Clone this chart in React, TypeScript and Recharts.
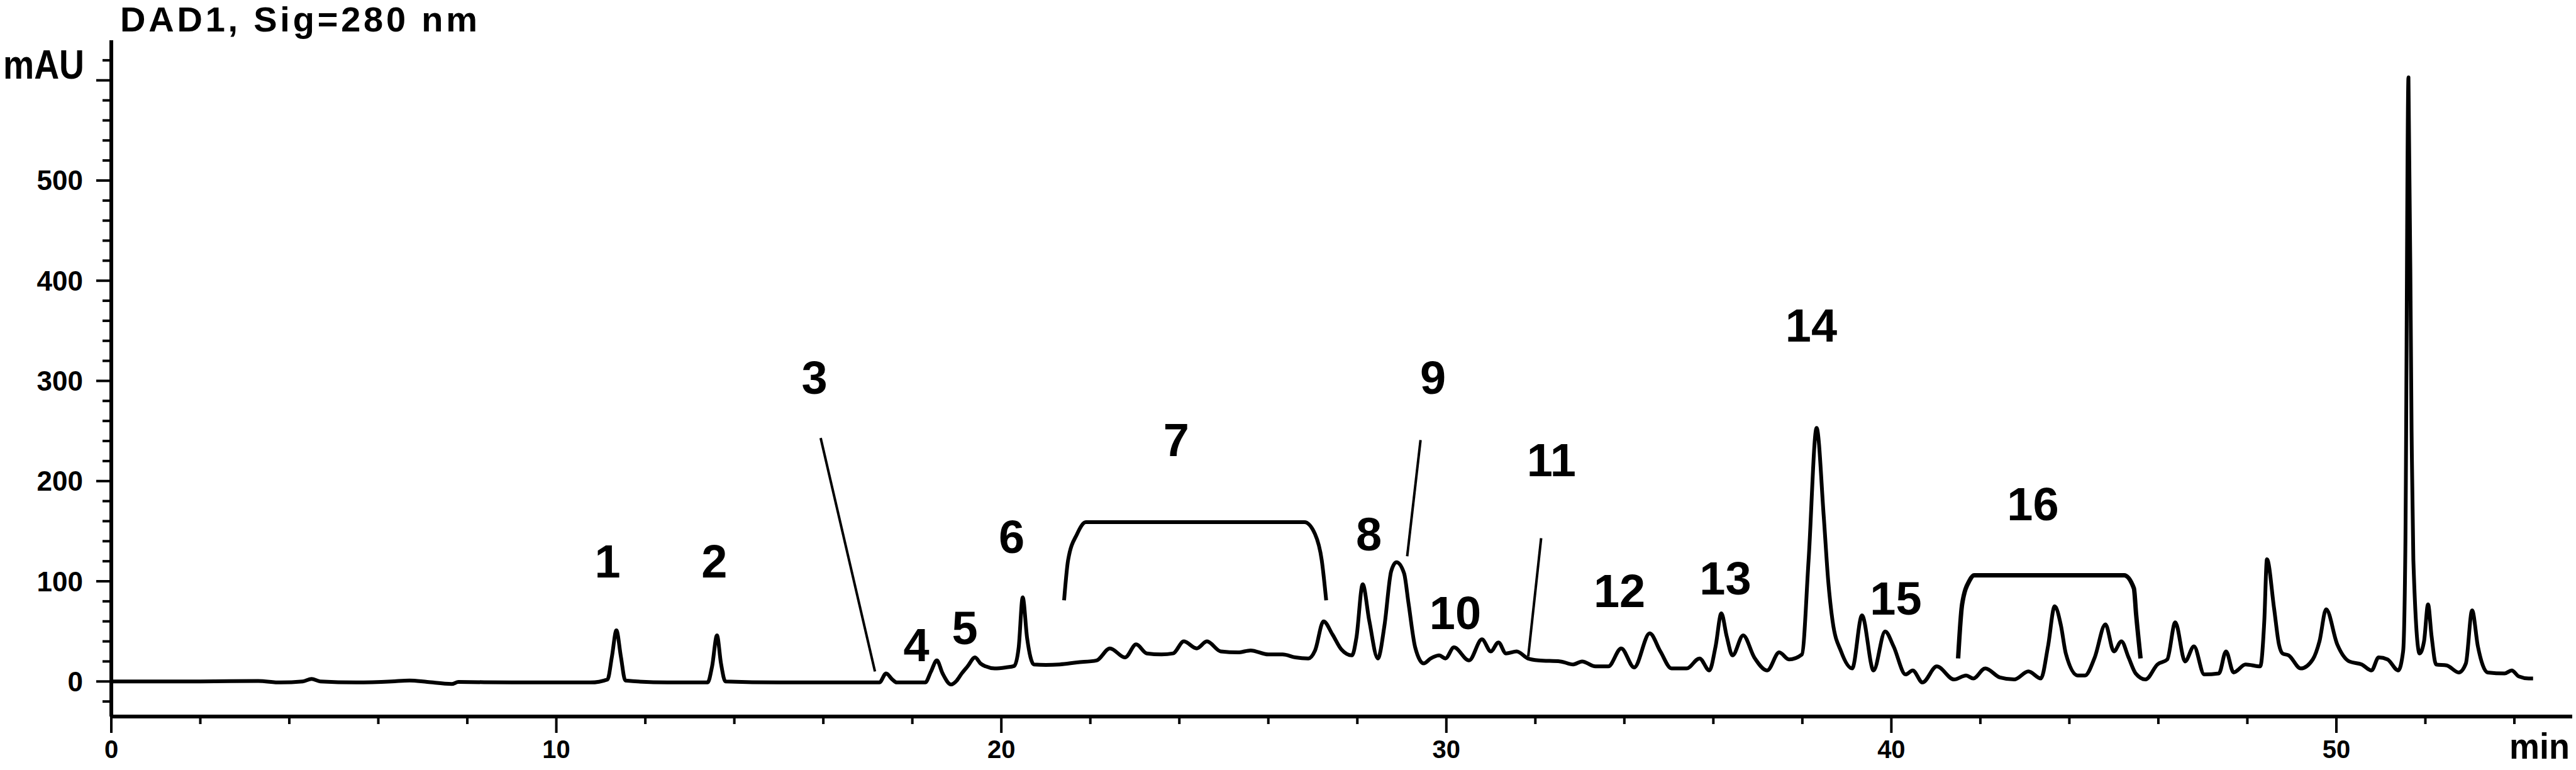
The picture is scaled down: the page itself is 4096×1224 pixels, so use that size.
import React from 'react';
import {
  ComposedChart,
  Line,
  Scatter,
  XAxis,
  YAxis,
  ReferenceLine,
} from 'recharts';

// retention time (min) and absorbance (mAU)
const times = [
  0, 1, 2, 3.3, 3.8, 4.3, 4.5, 4.7, 5.5, 6.3, 6.7, 7.1, 7.65, 7.8, 9, 10, 10.77,
  11.15, 11.25, 11.35, 11.45, 11.55, 12.5, 13.4, 13.5, 13.61, 13.7, 13.8, 15, 16.5,
  17.26, 17.41, 17.55, 17.65, 18.29, 18.42, 18.55, 18.68, 18.87, 19.0, 19.11, 19.24,
  19.41, 19.53, 19.65, 19.85, 20.1, 20.29, 20.39, 20.48, 20.58, 20.73, 21.0, 21.31,
  21.7, 22.14, 22.44, 22.78, 23.03, 23.27, 23.6, 23.86, 24.1, 24.39, 24.62, 24.93,
  25.32, 25.6, 26.0, 26.32, 26.61, 26.9, 27.05, 27.24, 27.44, 27.64, 27.88, 27.98,
  28.12, 28.27, 28.46, 28.61, 28.76, 28.88, 29.05, 29.15, 29.3, 29.49, 29.65, 29.84,
  29.98, 30.17, 30.51, 30.8, 31.0, 31.17, 31.34, 31.58, 31.83, 32.07, 32.56, 32.85,
  33.05, 33.35, 33.64, 33.93, 34.22, 34.57, 34.81, 35.06, 35.4, 35.69, 35.91, 36.05,
  36.18, 36.3, 36.43, 36.67, 36.92, 37.21, 37.48, 37.7, 37.99, 38.14, 38.32, 38.48,
  38.58, 38.68, 38.87, 39.12, 39.34, 39.6, 39.86, 40.05, 40.32, 40.48, 40.7, 41.02,
  41.41, 41.68, 41.84, 42.11, 42.44, 42.76, 43.08, 43.36, 43.52, 43.67, 43.81, 43.92,
  44.19, 44.35, 44.57, 44.81, 45.0, 45.17, 45.33, 45.49, 45.71, 45.98, 46.2, 46.38,
  46.6, 46.8, 47.03, 47.36, 47.52, 47.69, 47.96, 48.29, 48.38, 48.44, 48.6, 48.71,
  48.79, 48.93, 49.2, 49.47, 49.62, 49.77, 50.02, 50.29, 50.57, 50.79, 50.95, 51.15,
  51.39, 51.5, 51.55, 51.62, 51.69, 51.73, 51.87, 51.97, 52.06, 52.14, 52.24, 52.48,
  52.75, 52.91, 53.05, 53.18, 53.4, 53.78, 53.94, 54.1, 54.32, 54.42,
];

const mau = [
  0, 0, 0, 0.5, -1, 0, 2.5, 0, -1, 0, 1, -0.5, -2.5, -0.5, -1, -1, -1,
  2, 25, 51, 25, 1, -1, -1, 15, 46, 18, 0, -1, -1,
  -1, 8, 2, -1, -1, 10, 21, 8, -3, 1, 8, 15,
  24, 18, 15, 13, 14, 15.5, 34, 84, 43, 17, 16.5, 17,
  19, 21, 33, 24, 37, 28, 27, 28, 40, 33, 40, 30,
  29, 31, 27, 27, 24, 23, 31, 60, 47, 32, 26, 44,
  97, 60, 23, 56, 110, 119, 108, 78, 34, 18, 23, 26,
  23, 34, 21, 42, 30, 39, 28, 30, 23, 21, 20, 17,
  20, 15, 15, 33, 14, 48, 30, 13, 13, 23, 11, 35,
  68, 45, 26, 46, 24, 11, 29, 22, 27, 121, 253, 165,
  101, 60, 30, 13, 66, 11, 50, 35, 7, 11, -1, 15,
  2, 6, 3, 13, 4, 2, 10, 3, 35, 75, 56, 28,
  6, 6, 24, 57, 30, 40, 24, 8, 2, 17, 22, 59,
  20, 35, 7, 8, 30, 9, 17, 15, 60, 122, 73, 37,
  28, 26, 13, 22, 40, 72, 37, 20, 17, 11, 24, 22,
  11, 30, 132, 603, 250, 121, 28, 40, 77, 45, 17, 16,
  9, 18, 71, 35, 9, 8, 11, 5, 3, 3,
];

// peak numbers and where they sit
const peakLabels = ['1', '2', '3', '4', '5', '6', '7', '8', '9', '10', '11', '12', '13', '14', '15', '16'];
const labelTimes = [11.15, 13.55, 15.8, 18.09, 19.18, 20.23, 23.93, 28.26, 29.7, 30.2, 32.36, 33.89, 36.27, 38.2, 40.1, 43.18];
const labelMau = [120, 120, 303, 36, 53, 144, 241, 147, 303, 68, 221, 90, 103, 355, 83, 177];

// leader lines for peaks 3, 9, 11: [t1, v1, t2, v2]
const leaders = [
  [15.94, 243, 17.16, 10],
  [29.42, 241, 29.12, 125],
  [32.13, 143, 31.84, 25],
];

// brackets over groups 7 and 16
const bracket7T = [21.41, 21.5, 21.7, 21.9, 26.81, 27.05, 27.2, 27.3];
const bracket7V = [81, 121, 147, 159, 159, 147, 121, 81];
const bracket16T = [41.5, 41.59, 41.76, 41.86, 45.23, 45.45, 45.5, 45.6];
const bracket16V = [23, 77, 101, 106, 106, 93, 67, 23];

const xTicks = Array.from({ length: 28 }, (_, i) => i * 2);
const yTicks = Array.from({ length: 33 }, (_, i) => -20 + i * 20);

const FONT = "'Liberation Sans Narrow', 'Arial Narrow', 'Liberation Sans', Arial, sans-serif";

const trace = times.map((t, i) => ({ t, v: mau[i] }));
const labels = peakLabels.map((label, i) => ({ t: labelTimes[i], v: labelMau[i], label }));
const b7 = bracket7T.map((t, i) => ({ t, v: bracket7V[i] }));
const b16 = bracket16T.map((t, i) => ({ t, v: bracket16V[i] }));

const YTick = (props: any) => {
  const { x, y, payload } = props;
  const v = payload.value as number;
  const major = v % 100 === 0;
  return (
    <g>
      <line x1={x - (major ? 24 : 14)} x2={x} y1={y} y2={y} stroke="#000" strokeWidth={4} />
      {major && v >= 0 && v <= 500 && (
        <text x={x - 45} y={y} textAnchor="end" dominantBaseline="central"
          fontFamily={FONT} fontWeight="bold" fontSize={44} fill="#000">
          {v}
        </text>
      )}
    </g>
  );
};

const XTick = (props: any) => {
  const { x, y, payload } = props;
  const v = payload.value as number;
  const major = v % 10 === 0;
  return (
    <g>
      <line x1={x} x2={x} y1={y} y2={y + (major ? 26 : 12)} stroke="#000" strokeWidth={4} />
      {major && (
        <text x={x} y={y + 66} textAnchor="middle"
          fontFamily={FONT} fontWeight="bold" fontSize={40} fill="#000">
          {v}
        </text>
      )}
    </g>
  );
};

const PeakText = (props: any) => {
  const { cx, cy, payload } = props;
  return (
    <text x={cx} y={cy} textAnchor="middle" dominantBaseline="central"
      fontFamily={FONT} fontWeight="bold" fontSize={74} fill="#000">
      {payload.label}
    </text>
  );
};

export default function App() {
  return (
    <div style={{ position: 'absolute', left: 0, top: 0, width: 4096, height: 1224, background: '#fff' }}>
      <svg width={4096} height={1224} style={{ position: 'absolute', left: 0, top: 0 }}>
        <text x={191} y={50} fontFamily={FONT} fontWeight="bold" fontSize={56}
          textLength={568} lengthAdjust="spacing">
          DAD1, Sig=280 nm
        </text>
        <text x={5} y={125} fontFamily={FONT} fontWeight="bold" fontSize={64}
          textLength={129} lengthAdjust="spacingAndGlyphs">
          mAU
        </text>
        <text x={3990} y={1206} fontFamily={FONT} fontWeight="bold" fontSize={58}
          textLength={96} lengthAdjust="spacingAndGlyphs">
          min
        </text>
      </svg>
      <div style={{ position: 'absolute', left: 0, top: 0 }}>
        <ComposedChart
          width={4096}
          height={1224}
          data={trace}
          margin={{ top: 64, right: 6, bottom: 25, left: 77 }}
        >
          <XAxis
            dataKey="t"
            type="number"
            domain={[0, 55.3]}
            ticks={xTicks}
            interval={0}
            height={60}
            tickSize={0}
            tickMargin={0}
            tickLine={false}
            tick={<XTick />}
            axisLine={{ stroke: '#000', strokeWidth: 6 }}
            allowDataOverflow
          />
          <YAxis
            type="number"
            domain={[-35, 640]}
            ticks={yTicks}
            interval={0}
            width={100}
            tickSize={0}
            tickMargin={0}
            tickLine={false}
            tick={<YTick />}
            axisLine={{ stroke: '#000', strokeWidth: 6 }}
            allowDataOverflow
          />
          <Line
            type="monotone"
            dataKey="v"
            stroke="#000"
            strokeWidth={6}
            strokeLinejoin="round"
            dot={false}
            activeDot={false}
            isAnimationActive={false}
          />
          <Line
            data={b7}
            type="monotone"
            dataKey="v"
            stroke="#000"
            strokeWidth={6}
            dot={false}
            activeDot={false}
            isAnimationActive={false}
          />
          <Line
            data={b16}
            type="monotone"
            dataKey="v"
            stroke="#000"
            strokeWidth={7}
            dot={false}
            activeDot={false}
            isAnimationActive={false}
          />
          {leaders.map(([t1, v1, t2, v2], i) => (
            <ReferenceLine
              key={i}
              segment={[{ x: t1, y: v1 }, { x: t2, y: v2 }]}
              stroke="#000"
              strokeWidth={4}
            />
          ))}
          <Scatter data={labels} dataKey="v" shape={<PeakText />} isAnimationActive={false} />
        </ComposedChart>
      </div>
    </div>
  );
}
